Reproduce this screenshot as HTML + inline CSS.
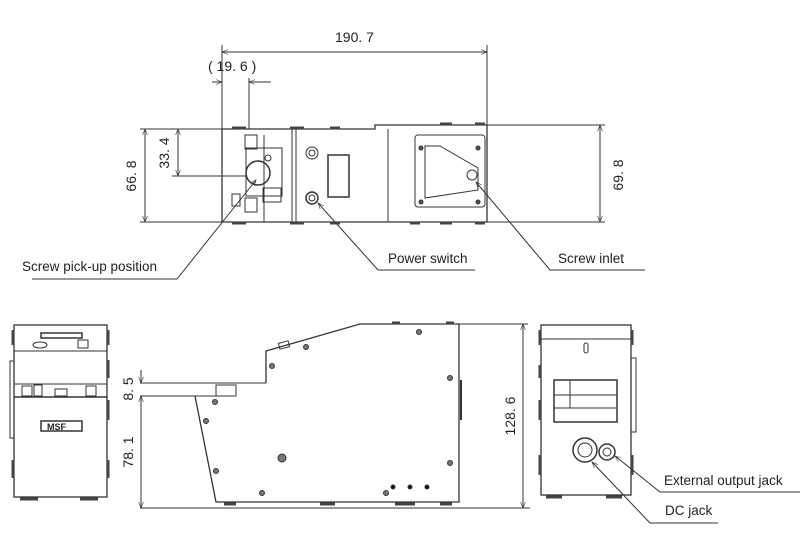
<!DOCTYPE html>
<html><head><meta charset="utf-8"><style>
html,body{margin:0;padding:0;background:#fff;}
svg{display:block;}
text{font-family:"Liberation Sans",sans-serif;fill:#222;}
.d{font-family:"Liberation Sans",sans-serif;font-size:14px;}
</style></head><body>
<svg width="800" height="560" viewBox="0 0 800 560" xmlns="http://www.w3.org/2000/svg">
<defs>
<marker id="a" viewBox="0 0 10 10" refX="10" refY="5" markerWidth="8" markerHeight="6" orient="auto-start-reverse"><path d="M0,1 L10,5 L0,9" fill="none" stroke="#333" stroke-width="1"/></marker>
</defs>
<g stroke="#333" fill="none" stroke-width="1">
<!-- TOP VIEW -->
<line x1="222" y1="45" x2="222" y2="129"/><line x1="487" y1="45" x2="487" y2="125"/>
<line x1="222" y1="52" x2="487" y2="52" marker-start="url(#a)" marker-end="url(#a)"/>
<line x1="249" y1="78" x2="249" y2="129"/>
<line x1="212" y1="82" x2="222" y2="82" marker-end="url(#a)"/><line x1="271" y1="82" x2="249" y2="82" marker-end="url(#a)"/>
<line x1="140" y1="129" x2="222" y2="129"/><line x1="140" y1="222" x2="222" y2="222"/>
<line x1="145" y1="129" x2="145" y2="222" marker-start="url(#a)" marker-end="url(#a)"/>
<line x1="172" y1="176" x2="247" y2="176"/>
<line x1="178" y1="129" x2="178" y2="176" marker-start="url(#a)" marker-end="url(#a)"/>
<line x1="487" y1="125" x2="605" y2="125"/><line x1="487" y1="222" x2="605" y2="222"/>
<line x1="600" y1="125" x2="600" y2="222" marker-start="url(#a)" marker-end="url(#a)"/>
<path d="M222,222 V129 H375 V125 H487 V222 Z" stroke-width="1.3"/>
<line x1="292" y1="129" x2="292" y2="222"/><line x1="296" y1="129" x2="296" y2="222"/>
<line x1="388" y1="129" x2="388" y2="222"/>
<line x1="264" y1="135" x2="264" y2="222"/>
<rect x="245" y="135" width="12" height="14"/><rect x="245" y="198" width="12" height="14"/>
<rect x="246" y="148" width="36" height="48"/>
<rect x="263" y="188" width="18" height="14"/>
<circle cx="258" cy="173" r="12" stroke-width="1.5"/>
<circle cx="268" cy="158" r="3"/>
<rect x="232" y="194" width="8" height="12"/>
<circle cx="312" cy="153" r="6"/><circle cx="312" cy="153" r="3"/>
<circle cx="312" cy="198" r="6" stroke-width="1.5"/><circle cx="312" cy="198" r="3"/>
<rect x="328" y="155" width="21" height="42" stroke-width="1.5"/>
<rect x="415" y="135" width="70" height="72" rx="3"/>
<path d="M425,146 V198 L478,190 V168 L440,146 Z"/>
<circle cx="472" cy="175" r="5"/>
<circle cx="421" cy="148" r="2" fill="#555"/><circle cx="478" cy="148" r="2" fill="#555"/><circle cx="421" cy="202" r="2" fill="#555"/><circle cx="478" cy="202" r="2" fill="#555"/>
<g stroke-width="3" stroke="#444">
<line x1="232" y1="128" x2="246" y2="128"/><line x1="290" y1="128" x2="304" y2="128"/><line x1="330" y1="128" x2="340" y2="128"/><line x1="440" y1="124" x2="452" y2="124"/><line x1="475" y1="124" x2="485" y2="124"/>
<line x1="232" y1="223" x2="246" y2="223"/><line x1="290" y1="223" x2="304" y2="223"/><line x1="330" y1="223" x2="340" y2="223"/><line x1="410" y1="223" x2="420" y2="223"/><line x1="440" y1="223" x2="452" y2="223"/><line x1="475" y1="223" x2="485" y2="223"/>
</g>
<!-- leaders top -->
<polyline points="256,180 177,279 32,279" marker-start="url(#a)"/>
<polyline points="318,203 378,270 475,270" marker-start="url(#a)"/>
<polyline points="476,182 550,270 645,270" marker-start="url(#a)"/>

<!-- FRONT VIEW -->
<rect x="14" y="325" width="93" height="172" stroke-width="1.3"/>
<line x1="14" y1="351" x2="107" y2="351"/><line x1="14" y1="384" x2="107" y2="384"/><line x1="14" y1="397" x2="107" y2="397" stroke-width="1.5"/>
<rect x="41" y="333" width="41" height="5" stroke-width="1.5"/>
<ellipse cx="40" cy="345" rx="7" ry="3"/><rect x="78" y="340" width="10" height="8"/>
<rect x="22" y="386" width="10" height="10"/><rect x="34" y="385" width="8" height="11"/><rect x="55" y="389" width="12" height="7"/><rect x="86" y="386" width="10" height="10"/>
<rect x="41" y="421" width="41" height="10" stroke-width="1.5"/>
<rect x="10" y="361" width="4" height="77"/>
<g stroke-width="3" stroke="#444"><line x1="13" y1="330" x2="13" y2="345"/><line x1="108" y1="330" x2="108" y2="345"/><line x1="108" y1="360" x2="108" y2="378"/><line x1="108" y1="400" x2="108" y2="420"/><line x1="108" y1="460" x2="108" y2="478"/><line x1="13" y1="460" x2="13" y2="478"/>
<line x1="20" y1="499" x2="38" y2="499"/><line x1="80" y1="499" x2="98" y2="499"/></g>

<!-- SIDE VIEW -->
<line x1="140" y1="508" x2="530" y2="508"/>
<line x1="140" y1="383" x2="266" y2="383"/>
<line x1="140" y1="396" x2="236" y2="396"/>
<line x1="141" y1="370" x2="141" y2="383" marker-end="url(#a)"/>
<line x1="141" y1="396" x2="141" y2="508" marker-start="url(#a)" marker-end="url(#a)"/>
<path d="M195,396 L216,502 H459 V324 H360 L266,351 V383" stroke-width="1.3"/>
<rect x="216" y="385" width="20" height="11"/>
<rect x="279" y="342" width="10" height="6" transform="rotate(-15 284 345)"/>
<line x1="459" y1="324" x2="528" y2="324"/>
<line x1="523" y1="324" x2="523" y2="508" marker-start="url(#a)" marker-end="url(#a)"/>
<line x1="461" y1="380" x2="461" y2="420" stroke-width="2"/>
<g fill="#777">
<circle cx="306" cy="347" r="2.5"/><circle cx="419" cy="332" r="2.5"/><circle cx="272" cy="366" r="2.5"/><circle cx="450" cy="378" r="2.5"/><circle cx="450" cy="463" r="2.5"/><circle cx="215" cy="402" r="2.5"/><circle cx="206" cy="421" r="2.5"/><circle cx="216" cy="471" r="2.5"/><circle cx="262" cy="493" r="2.5"/><circle cx="386" cy="493" r="2.5"/><circle cx="282" cy="458" r="4"/>
</g>
<g fill="#111"><circle cx="393" cy="487" r="2"/><circle cx="410" cy="487" r="2"/><circle cx="427" cy="487" r="2"/></g>
<g stroke-width="3" stroke="#444"><line x1="392" y1="323" x2="400" y2="323"/><line x1="446" y1="323" x2="454" y2="323"/><line x1="224" y1="504" x2="236" y2="504"/><line x1="320" y1="504" x2="335" y2="504"/><line x1="395" y1="504" x2="415" y2="504"/><line x1="440" y1="504" x2="452" y2="504"/></g>

<!-- RIGHT VIEW -->
<rect x="541" y="325" width="90" height="170" stroke-width="1.3"/>
<line x1="541" y1="339" x2="631" y2="339"/>
<rect x="584" y="343" width="4" height="10" rx="2"/>
<rect x="554" y="380" width="63" height="42" stroke-width="1.5"/>
<line x1="554" y1="395" x2="617" y2="395"/><line x1="554" y1="408" x2="617" y2="408"/><line x1="570" y1="380" x2="570" y2="408"/>
<circle cx="585" cy="450" r="12" stroke-width="1.5"/><circle cx="585" cy="450" r="7"/>
<circle cx="607" cy="452" r="8" stroke-width="1.5"/><circle cx="607" cy="452" r="4"/>
<rect x="631" y="358" width="5" height="74"/>
<g stroke-width="3" stroke="#444"><line x1="540" y1="330" x2="540" y2="345"/><line x1="540" y1="365" x2="540" y2="378"/><line x1="540" y1="400" x2="540" y2="420"/><line x1="540" y1="455" x2="540" y2="475"/><line x1="632" y1="330" x2="632" y2="345"/><line x1="632" y1="455" x2="632" y2="475"/><line x1="546" y1="497" x2="562" y2="497"/><line x1="606" y1="497" x2="622" y2="497"/></g>
<polyline points="615,456 660,492 800,492" marker-start="url(#a)"/>
<polyline points="592,462 650,523 718,523" marker-start="url(#a)"/>
</g>
<g font-size="13.5">
<text x="22" y="271">Screw pick-up position</text>
<text x="388" y="263">Power switch</text>
<text x="558" y="263">Screw inlet</text>
<text x="664" y="485">External output jack</text>
<text x="665" y="515">DC jack</text>
</g>
<g class="d">
<text x="335" y="42" font-size="14">190. 7</text>
<text x="208" y="71" font-size="14">( 19. 6 )</text>
<text transform="translate(136,176) rotate(-90)" text-anchor="middle" font-size="14">66. 8</text>
<text transform="translate(169,153) rotate(-90)" text-anchor="middle" font-size="14">33. 4</text>
<text transform="translate(623,175) rotate(-90)" text-anchor="middle" font-size="14">69. 8</text>
<text transform="translate(133,389) rotate(-90)" text-anchor="middle" font-size="14">8. 5</text>
<text transform="translate(133,452) rotate(-90)" text-anchor="middle" font-size="14">78. 1</text>
<text transform="translate(515,416) rotate(-90)" text-anchor="middle" font-size="14">128. 6</text>
</g>
<text x="47" y="430" font-size="9" font-weight="bold">MSF</text>
</svg>
</body></html>
